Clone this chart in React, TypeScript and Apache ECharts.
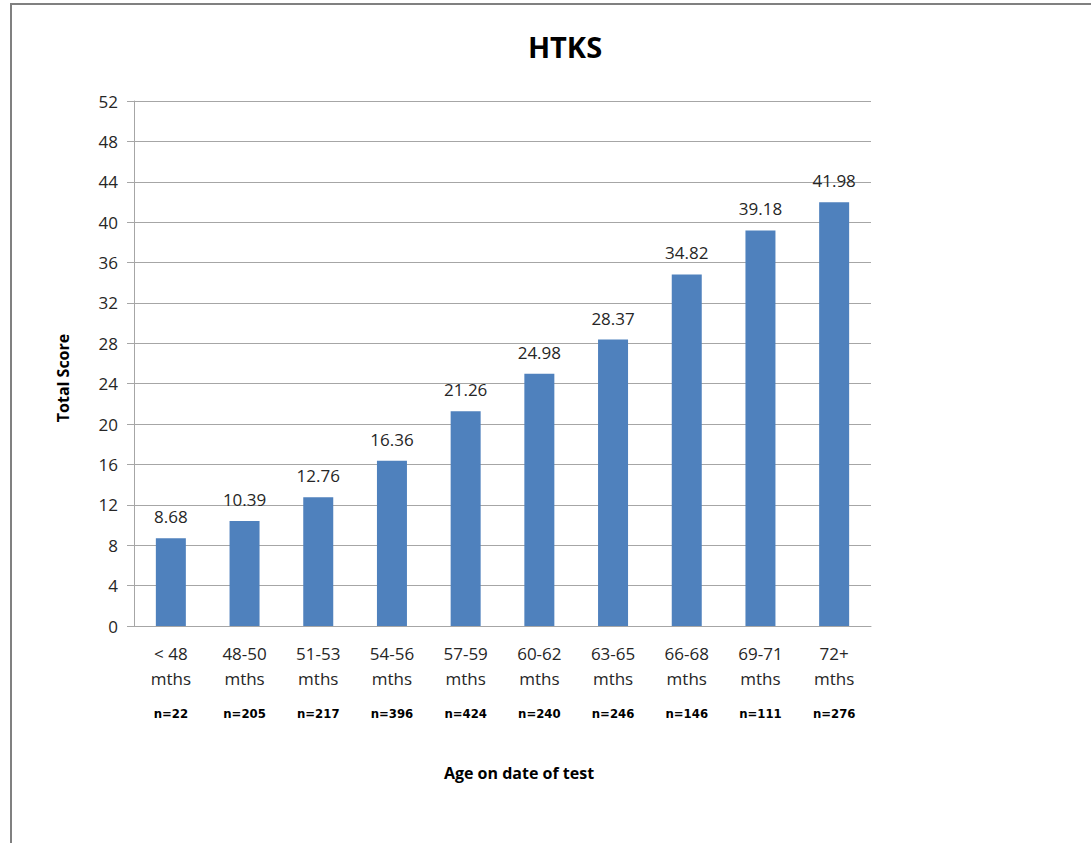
import React, { useEffect, useRef } from "react";
import * as echarts from "echarts";

const categories = ["< 48\nmths", "48-50\nmths", "51-53\nmths", "54-56\nmths", "57-59\nmths", "60-62\nmths", "63-65\nmths", "66-68\nmths", "69-71\nmths", "72+\nmths"];
const sampleSizes = ["n=22", "n=205", "n=217", "n=396", "n=424", "n=240", "n=246", "n=146", "n=111", "n=276"];
const scores = [8.68, 10.39, 12.76, 16.36, 21.26, 24.98, 28.37, 34.82, 39.18, 41.98];
const yMin = 0;
const yMax = 52;
const yInterval = 4;

const FONT = "'Open Sans', 'Noto Sans', sans-serif";
const NARROW = "'Liberation Sans Narrow', 'DejaVu Sans Condensed', 'Open Sans', sans-serif";

export default function App() {
  const ref = useRef<HTMLDivElement>(null);
  useEffect(() => {
    if (!ref.current) return;
    const chart = echarts.init(ref.current, null, { renderer: "svg" });
    chart.setOption({
      animation: false,
      backgroundColor: "#ffffff",
      title: {
        text: "HTKS",
        left: 560,
        top: 27,
        textAlign: "center",
        textStyle: { fontFamily: FONT, fontSize: 29, fontWeight: "bold", color: "#000000" },
      },
      graphic: [
        {
          type: "rect",
          shape: { x: 11, y: 4, width: 1100, height: 880 },
          style: { fill: "none", stroke: "#808080", lineWidth: 2 },
          silent: true,
        },
        {
          type: "text",
          x: 519,
          y: 773,
          style: {
            text: "Age on date of test",
            fontFamily: FONT,
            fontSize: 16,
            fontWeight: "bold",
            fill: "#000000",
            align: "center",
            verticalAlign: "middle",
          },
        },
        {
          type: "text",
          x: 63,
          y: 378,
          rotation: Math.PI / 2,
          style: {
            text: "Total Score",
            fontFamily: FONT,
            fontSize: 16,
            fontWeight: "bold",
            fill: "#000000",
            align: "center",
            verticalAlign: "middle",
          },
        },
      ],
      grid: { left: 134, right: 220, top: 101, bottom: 217, containLabel: false },
      xAxis: [
        {
          type: "category",
          data: categories,
          position: "bottom",
          axisLine: { show: true, lineStyle: { color: "#a6a6a6", width: 1 } },
          axisTick: { show: false },
          axisLabel: {
            interval: 0,
            margin: 15,
            fontFamily: FONT,
            fontSize: 17,
            lineHeight: 25,
            color: "#262626",
          },
        },
        {
          type: "category",
          data: sampleSizes,
          position: "bottom",
          axisLine: { show: false },
          axisTick: { show: false },
          axisLabel: {
            interval: 0,
            margin: 81,
            fontFamily: NARROW,
            fontSize: 13,
            fontWeight: "bold",
            color: "#000000",
          },
        },
      ],
      yAxis: {
        type: "value",
        min: yMin,
        max: yMax,
        interval: yInterval,
        axisLine: { show: true, lineStyle: { color: "#a6a6a6", width: 1 } },
        axisTick: { show: true, length: 7, lineStyle: { color: "#a6a6a6" } },
        splitLine: { show: true, lineStyle: { color: "#a6a6a6", width: 1 } },
        axisLabel: { margin: 16, fontFamily: FONT, fontSize: 17, color: "#262626" },
      },
      series: [
        {
          type: "bar",
          data: scores,
          barWidth: 30,
          itemStyle: { color: "#4f81bd" },
          label: {
            show: true,
            position: "top",
            distance: 13,
            fontFamily: FONT,
            fontSize: 17,
            color: "#262626",
          },
        },
      ],
    });
    return () => chart.dispose();
  }, []);
  return <div ref={ref} style={{ position: "fixed", left: 0, top: 0, width: 1091, height: 843 }} />;
}
